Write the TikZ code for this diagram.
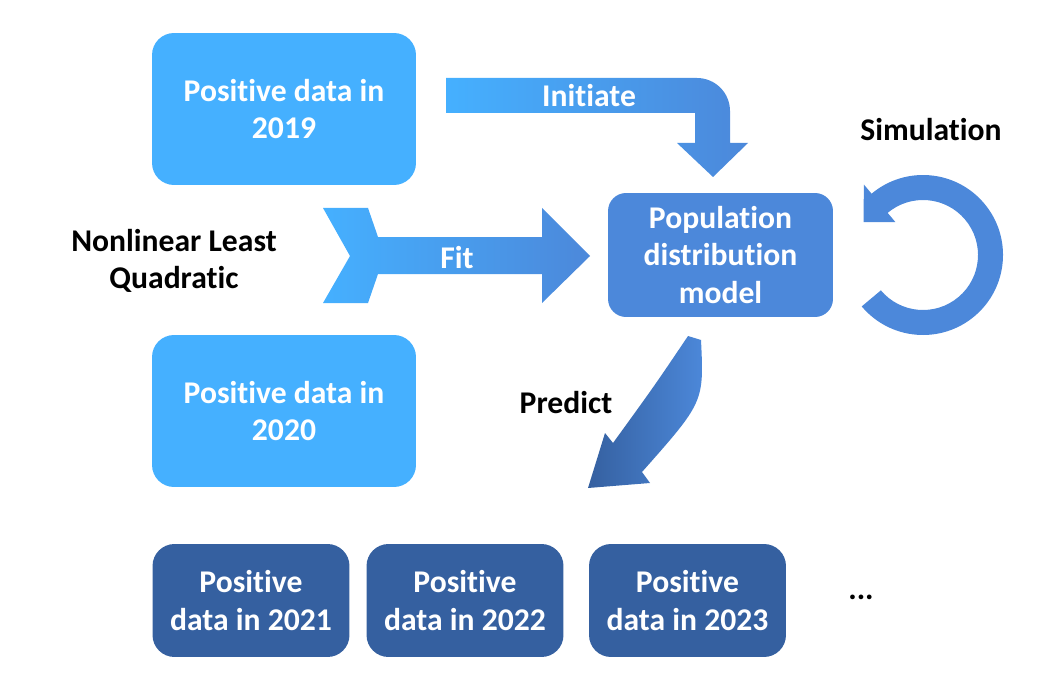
\documentclass[tikz,border=0pt]{standalone}
\usepackage{fontspec}
\setmainfont{Carlito}[Ligatures=NoCommon]
\usetikzlibrary{positioning}
\definecolor{lightblue}{RGB}{69,176,255}
\definecolor{midblue}{RGB}{76,136,218}
\definecolor{darkblue}{RGB}{53,96,160}
\tikzset{
  boxtext/.style={align=center, text=white, font=\fontsize{18}{21.5}\selectfont\bfseries},
  databox/.style={boxtext, fill=lightblue, rounded corners=0.44cm, minimum width=5.28cm, minimum height=3.04cm},
  modelbox/.style={boxtext, fill=midblue, rounded corners=0.36cm, minimum width=4.5cm, minimum height=2.48cm},
  futurebox/.style={boxtext, fill=darkblue, rounded corners=0.44cm, minimum width=3.94cm, minimum height=2.26cm},
  lbl/.style={align=center, font=\fontsize{18}{21.5}\selectfont\bfseries},
  arrowlbl/.style={lbl, text=white}
}

\begin{document}
\begin{tikzpicture}[x=0.02cm, y=0.02cm]
                \useasboundingbox (0,0) rectangle (1053,687);

                % Input data
                \node[databox] (d2019) at (284,578) {Positive data in\\2019};
                \node[databox] (d2020) at (284,276) {Positive data in\\2020};

                % Model
                \node[modelbox] (model) at (720.5,432) {Population\\distribution\\model};

                % Predicted data
                \node[futurebox] (d2021) at (251,86.5) {Positive\\data in 2021};
                \node[futurebox] (d2022) at (465,86.5) {Positive\\data in 2022};
                \node[futurebox] (d2023) at (687.5,86.5) {Positive\\data in 2023};
                \node[lbl] (dots) at (861,90) {...};

                % Initiate arrow
                \shade[left color=lightblue, right color=midblue]
                  (446,609) -- (697,609) arc (90:0:33) -- (730,544) -- (748,544)
                  -- (713,510) -- (677,544) -- (695,544) -- (695,574) -- (446,574) -- cycle;
                \node[arrowlbl] (initlbl) at (589,591) {Initiate};

                % Fit arrow
                \shade[left color=lightblue, right color=midblue]
                  (323,479) -- (368,479) -- (378,450) -- (542,450) -- (542,479) -- (590,431)
                  -- (542,384) -- (542,413) -- (378,413) -- (368,384) -- (323,384) -- (350,431) -- cycle;
                \node[arrowlbl] (fitlbl) at (457,429) {Fit};
                \node[lbl] (nlq) at (174,426) {Nonlinear Least\\Quadratic};

                % Simulation loop
                \begin{scope}[shift={(923,432)}]
                  \fill[midblue] (220:80) arc (220:490:80) -- (130:92) -- (151:68)
                    -- (130:43) -- (130:55) arc (490:220:55) -- cycle;
                \end{scope}
                \node[lbl] (sim) at (931,557) {Simulation};

                % Predict arrow
                \shade[left color=darkblue, right color=midblue]
                  (688,351) -- (701,347) .. controls (704,285) .. (642,215) -- (650,204)
                  -- (588,199) -- (605,254) -- (613,244) .. controls (655,302) .. (688,351) -- cycle;
                \node[lbl] (predict) at (566,284) {Predict};
\end{tikzpicture}
\end{document}
